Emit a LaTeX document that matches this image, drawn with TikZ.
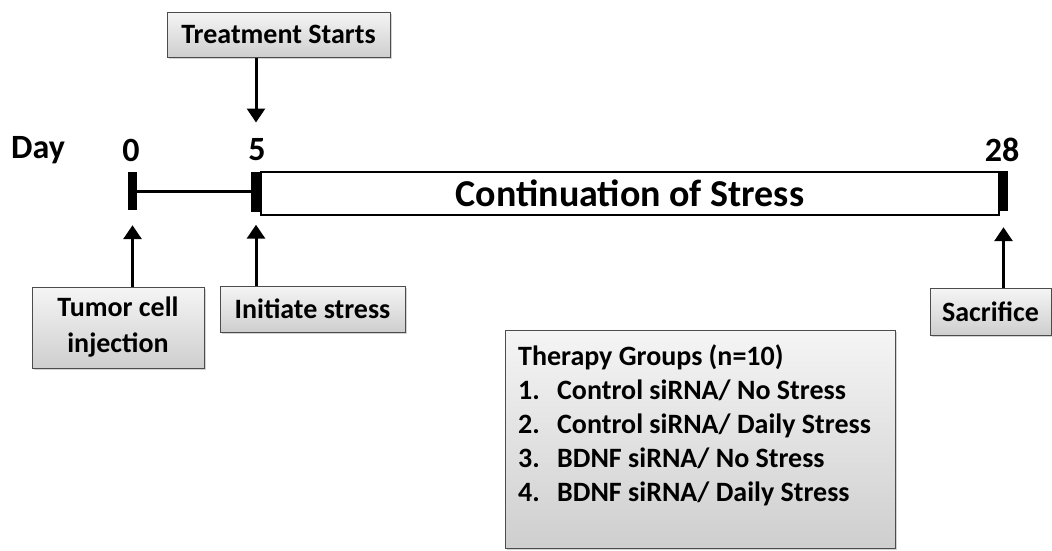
\documentclass[tikz,border=0pt]{standalone}
\usepackage{fontspec}
\setmainfont{Carlito}
\usetikzlibrary{positioning,shadows,arrows.meta}

\tikzset{
  greybox/.style={draw=black!70, line width=1pt, top color=gray!8, bottom color=gray!38,
    drop shadow={shadow xshift=2pt, shadow yshift=-2pt, opacity=0.35},
    font=\fontsize{28}{36}\selectfont\bfseries, align=center, inner sep=0pt},
  daylbl/.style={font=\fontsize{34}{38}\selectfont\bfseries, inner sep=0pt},
  tick/.style={fill=black, inner sep=0pt, minimum width=9pt},
  arr/.style={line width=3pt, -{Triangle[width=18pt,length=14pt]}}
}
\newcommand{\grp}[1]{\makebox[39pt][l]{#1}}

\begin{document}
\begin{tikzpicture}[x=1pt,y=-1pt]
  \useasboundingbox (0,0) rectangle (1052,550);
  % day labels
  \node[daylbl] (day) at (38,150) {Day};
  \node[daylbl] (d0) at (131,150) {0};
  \node[daylbl] (d5) at (257,150) {5};
  \node[daylbl] (d28) at (1002,150) {28};
  % timeline
  \node[tick, minimum height=38pt] (t0) at (132.5,191) {};
  \node[tick, minimum height=40pt, minimum width=10pt] (t5) at (256,191.5) {};
  \node[draw, line width=2pt, fill=white, minimum width=738pt, minimum height=43pt,
    inner sep=0pt, font=\fontsize{38}{40}\selectfont\bfseries] (stress) at (630,193) {Continuation of Stress};
  \node[tick, minimum height=40pt] (t28) at (1003.5,191) {};
  \draw[line width=3pt] (t0.east) -- (t0.east -| t5.west);
  % boxes
  \node[greybox, minimum width=223pt, minimum height=45pt] (treat) at (278.5,34.5) {Treatment Starts};
  \node[greybox, minimum width=172pt, minimum height=81pt] (tumor) at (118,327.5) {Tumor cell\\injection};
  \node[greybox, minimum width=185pt, minimum height=46pt] (init) at (312.5,309) {Initiate stress};
  \node[greybox, minimum width=121pt, minimum height=47pt] (sacr) at (990.5,311.5) {Sacrifice};
  \node[greybox, minimum width=390pt, minimum height=218pt] (groups) at (700,439) {};
  \node[anchor=north west, align=left, inner sep=0pt, font=\fontsize{28}{34}\selectfont\bfseries]
    (glist) at (518,345) {Therapy Groups (n=10)\\
    \grp{1.}Control siRNA/ No Stress\\
    \grp{2.}Control siRNA/ Daily Stress\\
    \grp{3.}BDNF siRNA/ No Stress\\
    \grp{4.}BDNF siRNA/ Daily Stress};
  % arrows
  \draw[arr] (treat.south -| t5) -- ++(0,65);
  \draw[arr] (tumor.north -| t0) -- ([yshift=-15pt]t0.south);
  \draw[arr] (init.north -| t5) -- ([yshift=-13pt]t5.south);
  \draw[arr] (sacr.north -| t28) -- ([yshift=-16pt]t28.south);
\end{tikzpicture}
\end{document}
